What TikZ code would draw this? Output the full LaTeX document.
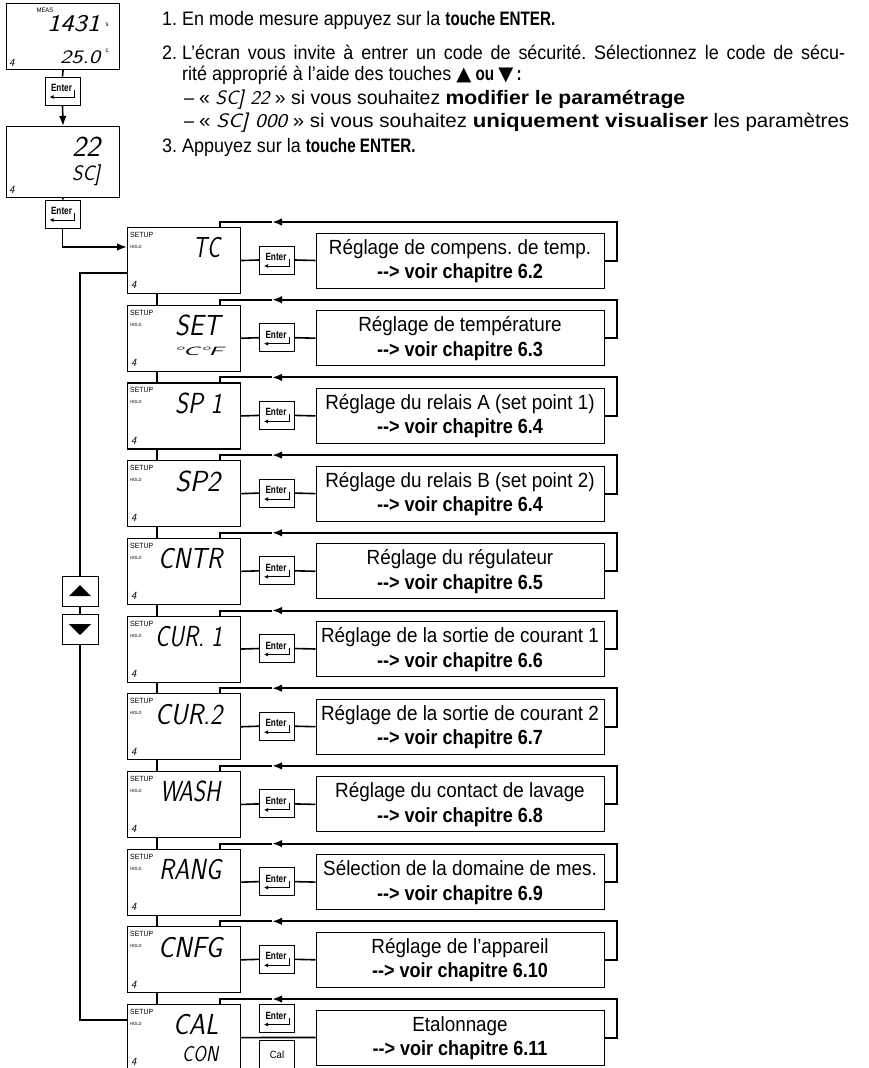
\documentclass[tikz,border=0pt]{standalone}
\usepackage{fontspec}
\setmainfont{Liberation Sans}[FakeStretch=0.92,BoldFeatures={FakeStretch=0.78}]
\newfontfamily\bxfont{Liberation Sans}[FakeStretch=0.92,BoldFeatures={FakeStretch=0.88}]
\newfontfamily\bwide{Liberation Sans}[FakeStretch=0.92,BoldFeatures={FakeStretch=1.0}]
\newfontfamily\symfont{DejaVu Sans}
\usetikzlibrary{arrows.meta,calc}
\frenchspacing
\newcommand\segw[2]{\resizebox{#1}{\height}{\sffamily\itshape #2}}
\newcommand\segn[1]{{\sffamily\itshape #1}}
\newcommand\enterlbl[1]{%
  \node[entertxt] (#1-t) at ($(#1.center)+(-1,-3)$) {Enter};
  \draw[line width=0.9pt,-{Latex[length=4pt,width=4pt]}] ($(#1.center)+(12,-1)$) -- ($(#1.center)+(12,6)$) -- ($(#1.center)+(-13,6)$);}
\begin{document}
\begin{tikzpicture}[x=1pt,y=-1pt,
  body/.style={font=\fontsize{19.5}{21}\selectfont,inner sep=0pt,anchor=base west},
  disp/.style={draw,line width=1.1pt,minimum width=113pt,minimum height=66pt,inner sep=0pt,anchor=north west},
  keybox/.style={draw,line width=0.9pt,minimum width=35pt,minimum height=28pt,inner sep=0pt},
  tbox/.style={draw,line width=1pt,minimum width=288pt,minimum height=55pt,inner sep=0pt},
  loopln/.style={line width=2pt},
  conn/.style={line width=1.6pt},
  connl/.style={line width=1.1pt},
  arr/.style={-{Latex[length=10pt,width=7.5pt]}},
  setuplbl/.style={font=\fontsize{7.5}{8}\selectfont,anchor=west,inner sep=0pt},
  holdlbl/.style={font=\fontsize{4.5}{5}\selectfont,anchor=west,inner sep=0pt},
  segbig/.style={font=\fontsize{29}{29}\selectfont,anchor=west,inner sep=0pt},
  four/.style={font=\fontsize{11}{11}\selectfont,anchor=south west,inner sep=0pt},
  mini/.style={font=\fontsize{6.5}{7}\selectfont,inner sep=0pt},
  entertxt/.style={font=\fontsize{10.5}{11}\selectfont\bfseries,inner sep=0pt},
  boxtxt/.style={font=\bxfont\fontsize{20.5}{22}\selectfont,inner sep=0pt,anchor=base},
]
\useasboundingbox (0,0) rectangle (869,1068);
\clip (0,0) rectangle (869,1068);

% instructions
\node[body] (n1) at (162,25) {1.};
\node[body] (t1) at (182,25) {En mode mesure appuyez sur la \textbf{touche ENTER.}};
\node[body] (n2) at (162,59) {2.};
\node[body] (t2) at (182,59) {\makebox[663pt][s]{L’écran vous invite à entrer un code de sécurité. Sélectionnez le code de sécu-}};
\node[body] (t3) at (182,80) {rité approprié à l’aide des touches \textbf{{\symfont ▲} ou {\symfont ▼}\,:}};
\node[body] (h4) at (184,104) {–};
\node[body] (t4) at (199,104) {\resizebox{486pt}{\height}{« \segw{50pt}{SC] 22} » si vous souhaitez {\bwide\bfseries modifier le paramétrage}}};
\node[body] (h5) at (184,127) {–};
\node[body] (t5) at (199,127) {\resizebox{650pt}{\height}{« \segw{62pt}{SC] 000} » si vous souhaitez {\bwide\bfseries uniquement visualiser} les paramètres}};
\node[body] (n6) at (162,152) {3.};
\node[body] (t6) at (182,152) {Appuyez sur la \textbf{touche ENTER.}};

% top displays
\node[disp] (m1) at (6,3) {};
\node[mini] (meas) at (45,10) {MEAS};
\node[segbig,font=\fontsize{24}{24}\selectfont] (v1) at (47,24) {\segw{53pt}{1431}};
\node[mini] (ms) at (107,25) {s};
\node[segbig,font=\fontsize{19}{19}\selectfont] (v2) at (60,57) {\segw{40pt}{25.0}};
\node[mini] (mc) at (107,51) {c};
\node[four] (f1) at (9,67) {\segn{4}};
\node[keybox] (e1) at (62.5,91) {};
\enterlbl{e1}
\node[disp,minimum height=71pt] (m2) at (6,126) {};
\node[segbig] (v3) at (72,147) {\segw{28pt}{22}};
\node[segbig,font=\fontsize{21}{21}\selectfont] (v4) at (72,175) {\segw{28pt}{SC]}};
\node[four] (f2) at (9,194) {\segn{4}};
\node[keybox] (e2) at (62.5,214) {};
\enterlbl{e2}

% setup rows
\foreach \i/\main/\lx/\w/\desc/\ch in {
 1/{TC}/193/27/{Réglage de compens. de temp.}/{6.2},
 2/{SET}/175/45/{Réglage de température}/{6.3},
 3/{SP 1}/175/47/{Réglage du relais A (set point 1)}/{6.4},
 4/{SP2}/175/45/{Réglage du relais B (set point 2)}/{6.4},
 5/{CNTR}/158/64/{Réglage du régulateur}/{6.5},
 6/{CUR. 1}/155/67/{Réglage de la sortie de courant 1}/{6.6},
 7/{CUR.2}/155/67/{Réglage de la sortie de courant 2}/{6.7},
 8/{WASH}/160/60/{Réglage du contact de lavage}/{6.8},
 9/{RANG}/159/62/{Sélection de la domaine de mes.}/{6.9},
 10/{CNFG}/158/64/{Réglage de l’appareil}/{6.10},
 11/{CAL}/173/45/{Etalonnage}/{6.11}}{
  \pgfmathsetmacro\rowT{227+77.7*(\i-1)}
  \node[disp] (d\i) at (127,\rowT) {};
  \node[setuplbl] (s\i) at (130,\rowT+8) {SETUP};
  \node[holdlbl] (h\i) at (130,\rowT+20) {HOLD};
  \node[four] (q\i) at (131,\rowT+62) {\segn{4}};
  \node[segbig] (v\i) at (\lx,\rowT+21) {\segw{\w pt}{\main}};
  \node[tbox] (tb\i) at (460,\rowT+33.5) {};
  \node[boxtxt] (l\i) at (460,\rowT+27) {\desc};
  \node[boxtxt] (r\i) at (460,\rowT+51.5) {\bfseries -{}-{}> voir chapitre \ch};
  \ifnum\i=11
    \node[keybox] (k\i) at (277,\rowT+14.5) {};
    \enterlbl{k\i}
    \node[keybox,font=\fontsize{10.5}{11}\selectfont] (c\i) at (277,\rowT+50.5) {Cal};
    \draw[conn] (d\i.east) -- (tb\i.west);
  \else
    \node[keybox] (k\i) at (277,\rowT+33) {};
    \enterlbl{k\i}
    \draw[conn] (d\i.east) -- (k\i.west);
    \draw[conn] (k\i.east) -- (tb\i.west);
  \fi
  \coordinate (a\i) at (272,\rowT-5);
  \draw[loopln,arr] (tb\i.east) -- ++(12,0) |- (a\i);
  \draw[loopln] (a\i) -| ($(d\i.north west)+(93,0)$);
}
\node[segbig,font=\fontsize{12}{12}\selectfont] (sub2) at (173,351.7) {\segw{50pt}{°C°F}};
\node[segbig,font=\fontsize{21.5}{21.5}\selectfont] (sub11) at (182,1054) {\segw{36pt}{CON}};

\foreach \i [evaluate=\i as \j using int(\i+1)] in {1,...,10}{
  \draw[connl] ($(d\i.south west)+(30,0)$) -- ($(d\j.north west)+(30,0)$);
}

% top connectors
\draw[conn] (m1.south) -- (e1.north);
\draw[conn,arr] (e1.south) -- (m2.north);
\draw[conn] (m2.south) -- (e2.north);
\draw[conn,arr] (e2.south) |- ($(d1.north west)+(0,20)$);

% up/down keys and left loop
\node[keybox,minimum height=30pt,minimum width=36pt] (up) at (80,591) {};
\fill ($(up.center)+(-11,5)$) -- ($(up.center)+(11,5)$) -- ($(up.center)+(0,-6)$) -- cycle;
\node[keybox,minimum height=30pt,minimum width=36pt] (dn) at (80,629) {};
\fill ($(dn.center)+(-11,-5)$) -- ($(dn.center)+(11,-5)$) -- ($(dn.center)+(0,6)$) -- cycle;
\draw[connl] ($(d1.north west)+(0,46)$) -| (up.north);
\draw[connl] (up.south) -- (dn.north);
\draw[connl] (dn.south) |- ($(d11.north west)+(0,16)$);
\end{tikzpicture}
\end{document}
